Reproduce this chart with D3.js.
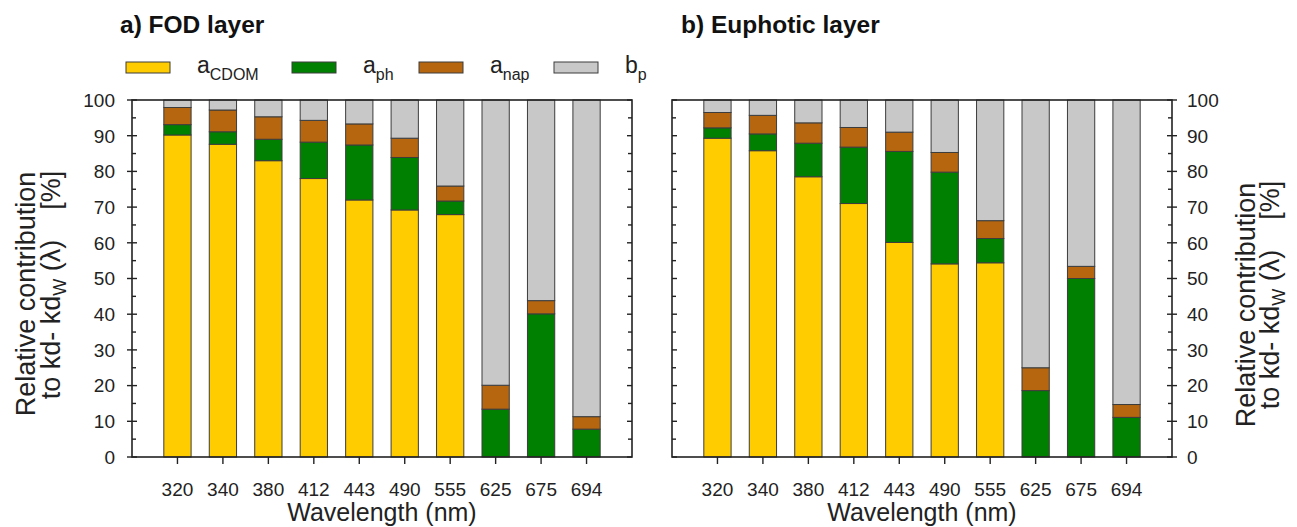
<!DOCTYPE html>
<html>
<head>
<meta charset="utf-8">
<script src="https://cdn.jsdelivr.net/npm/d3@7/dist/d3.min.js"></script>
<style>
  html, body { margin: 0; padding: 0; background: #fff; }
  svg { display: block; font-family: Arial, "Liberation Sans", sans-serif; }
</style>
</head>
<body>
<svg id="chart" width="1297" height="527"></svg>
<script>
// Wavelength categories (nm)
const wavelengths = ["320", "340", "380", "412", "443", "490", "555", "625", "675", "694"];

// Relative contributions (%) — FOD layer
const fodCdom = [90.2, 87.6, 83.0, 78.0, 72.0, 69.2, 67.9, 0, 0, 0];
const fodPh   = [2.9, 3.5, 6.0, 10.2, 15.4, 14.7, 3.8, 13.4, 40.1, 7.8];
const fodNap  = [4.8, 6.1, 6.3, 6.1, 5.9, 5.4, 4.2, 6.7, 3.7, 3.5];
const fodBp   = [2.1, 2.8, 4.7, 5.7, 6.7, 10.7, 24.1, 79.9, 56.2, 88.7];

// Relative contributions (%) — Euphotic layer
const euCdom = [89.3, 85.8, 78.5, 71.0, 60.1, 54.1, 54.4, 0, 0, 0];
const euPh   = [2.9, 4.7, 9.4, 15.8, 25.5, 25.7, 6.8, 18.6, 50.0, 11.1];
const euNap  = [4.3, 5.2, 5.7, 5.5, 5.4, 5.5, 5.0, 6.4, 3.4, 3.6];
const euBp   = [3.5, 4.3, 6.4, 7.7, 9.0, 14.7, 33.8, 75.0, 46.6, 85.3];

const yTicks = [0, 10, 20, 30, 40, 50, 60, 70, 80, 90, 100];
const yMinor = [5, 15, 25, 35, 45, 55, 65, 75, 85, 95];

const seriesKeys = ["cdom", "ph", "nap", "bp"];
const seriesColors = { cdom: "#FFCC00", ph: "#008000", nap: "#B5660F", bp: "#C8C8C8" };
const seriesBase = { cdom: "a", ph: "a", nap: "a", bp: "b" };
const seriesSub = { cdom: "CDOM", ph: "ph", nap: "nap", bp: "p" };

const svg = d3.select("#chart");
const plotTop = 100, plotBottom = 457;

const y = d3.scaleLinear().domain([0, 100]).range([plotBottom, plotTop]);

function buildRows(cdom, ph, nap, bp) {
  return wavelengths.map((w, i) => ({ w, cdom: cdom[i], ph: ph[i], nap: nap[i], bp: bp[i] }));
}

function drawPanel(opts) {
  const { left, right, rows, title, labelSide } = opts;
  const g = svg.append("g");
  const x = d3.scaleBand().domain(wavelengths).range([left, right])
    .paddingInner(0.4).paddingOuter(0.7);

  const stacked = d3.stack().keys(seriesKeys)(rows);

  // stacked bars
  g.append("g").selectAll("g").data(stacked).join("g")
    .attr("fill", d => seriesColors[d.key])
    .selectAll("rect").data(d => d.filter(s => s[1] - s[0] > 0)).join("rect")
    .attr("x", d => x(d.data.w))
    .attr("width", x.bandwidth())
    .attr("y", d => y(d[1]))
    .attr("height", d => y(d[0]) - y(d[1]))
    .attr("stroke", "#3c3c3c")
    .attr("stroke-width", 1);

  // frame
  g.append("rect")
    .attr("x", left).attr("y", plotTop)
    .attr("width", right - left).attr("height", plotBottom - plotTop)
    .attr("fill", "none").attr("stroke", "#222").attr("stroke-width", 1.6);

  // x axis ticks and labels
  const xAxis = d3.axisBottom(x).tickSize(7).tickPadding(19).tickSizeOuter(0);
  const xg = g.append("g").attr("transform", `translate(0,${plotBottom})`).call(xAxis);
  xg.select(".domain").remove();
  xg.selectAll("line").attr("stroke", "#222").attr("stroke-width", 1.4);
  xg.selectAll("text").attr("font-size", 19).attr("fill", "#222")
    .attr("font-family", "Arial, 'Liberation Sans', sans-serif");

  // y axes on both sides
  [left, right].forEach(xp => {
    const labeled = (labelSide === "left" && xp === left) || (labelSide === "right" && xp === right);
    const inward = xp === left ? 1 : -1;
    const ag = g.append("g");
    ag.selectAll("line.major").data(yTicks).join("line")
      .attr("x1", xp - (labeled ? 5 * inward : 0))
      .attr("x2", xp + 5 * inward)
      .attr("y1", d => y(d)).attr("y2", d => y(d))
      .attr("stroke", "#222").attr("stroke-width", 1.4);
    ag.selectAll("line.minor").data(yMinor).join("line")
      .attr("x1", xp).attr("x2", xp + 4 * inward)
      .attr("y1", d => y(d)).attr("y2", d => y(d))
      .attr("stroke", "#222").attr("stroke-width", 1.4);
    if (labeled) {
      ag.selectAll("text").data(yTicks).join("text")
        .attr("x", xp === left ? xp - 17 : xp + 15)
        .attr("y", d => y(d))
        .attr("dy", "0.36em")
        .attr("text-anchor", xp === left ? "end" : "start")
        .attr("font-size", 19).attr("fill", "#222")
        .text(d => d);
    }
  });

  // panel title
  g.append("text").attr("x", opts.titleX).attr("y", 33)
    .attr("font-size", 24.5).attr("font-weight", "bold").attr("fill", "#111")
    .text(title);

  // x axis title
  g.append("text").attr("x", (left + right) / 2).attr("y", 521)
    .attr("text-anchor", "middle").attr("font-size", 25).attr("fill", "#222")
    .text("Wavelength (nm)");

  // y axis title (two lines, rotated)
  const yt = opts.yTitle;
  g.append("text")
    .attr("transform", `translate(${yt.x1},${yt.c1}) rotate(-90)`)
    .attr("text-anchor", "middle").attr("font-size", 27).attr("fill", "#222")
    .text("Relative contribution");
  const t2 = g.append("text")
    .attr("transform", `translate(${yt.x2},${yt.c2}) rotate(-90)`)
    .attr("text-anchor", "middle").attr("font-size", 27).attr("fill", "#222")
    .attr("xml:space", "preserve")
    .style("white-space", "pre");
  t2.append("tspan").text("to kd- kd");
  t2.append("tspan").attr("font-size", 18).attr("dy", 6).text("W");
  t2.append("tspan").attr("dy", -6).text(" (λ)    [%]");
}

drawPanel({ left: 132, right: 632, rows: buildRows(fodCdom, fodPh, fodNap, fodBp),
  title: "a) FOD layer", titleX: 120, labelSide: "left",
  yTitle: { x1: 35, c1: 294, x2: 60, c2: 285 } });
drawPanel({ left: 672, right: 1172, rows: buildRows(euCdom, euPh, euNap, euBp),
  title: "b) Euphotic layer", titleX: 681, labelSide: "right",
  yTitle: { x1: 1255, c1: 305, x2: 1279, c2: 295 } });

// legend
const legendX = [126, 292, 419, 554];
const legend = svg.append("g");
seriesKeys.forEach((k, i) => {
  const lg = legend.append("g").attr("transform", `translate(${legendX[i]},62)`);
  lg.append("rect").attr("width", 44).attr("height", 11)
    .attr("fill", seriesColors[k]).attr("stroke", "#3c3c3c").attr("stroke-width", 1);
  const t = lg.append("text").attr("x", 71).attr("y", 11)
    .attr("font-size", 23).attr("fill", "#222");
  t.append("tspan").text(seriesBase[k]);
  t.append("tspan").attr("font-size", 16).attr("dy", 7).text(seriesSub[k]);
});
</script>
</body>
</html>
